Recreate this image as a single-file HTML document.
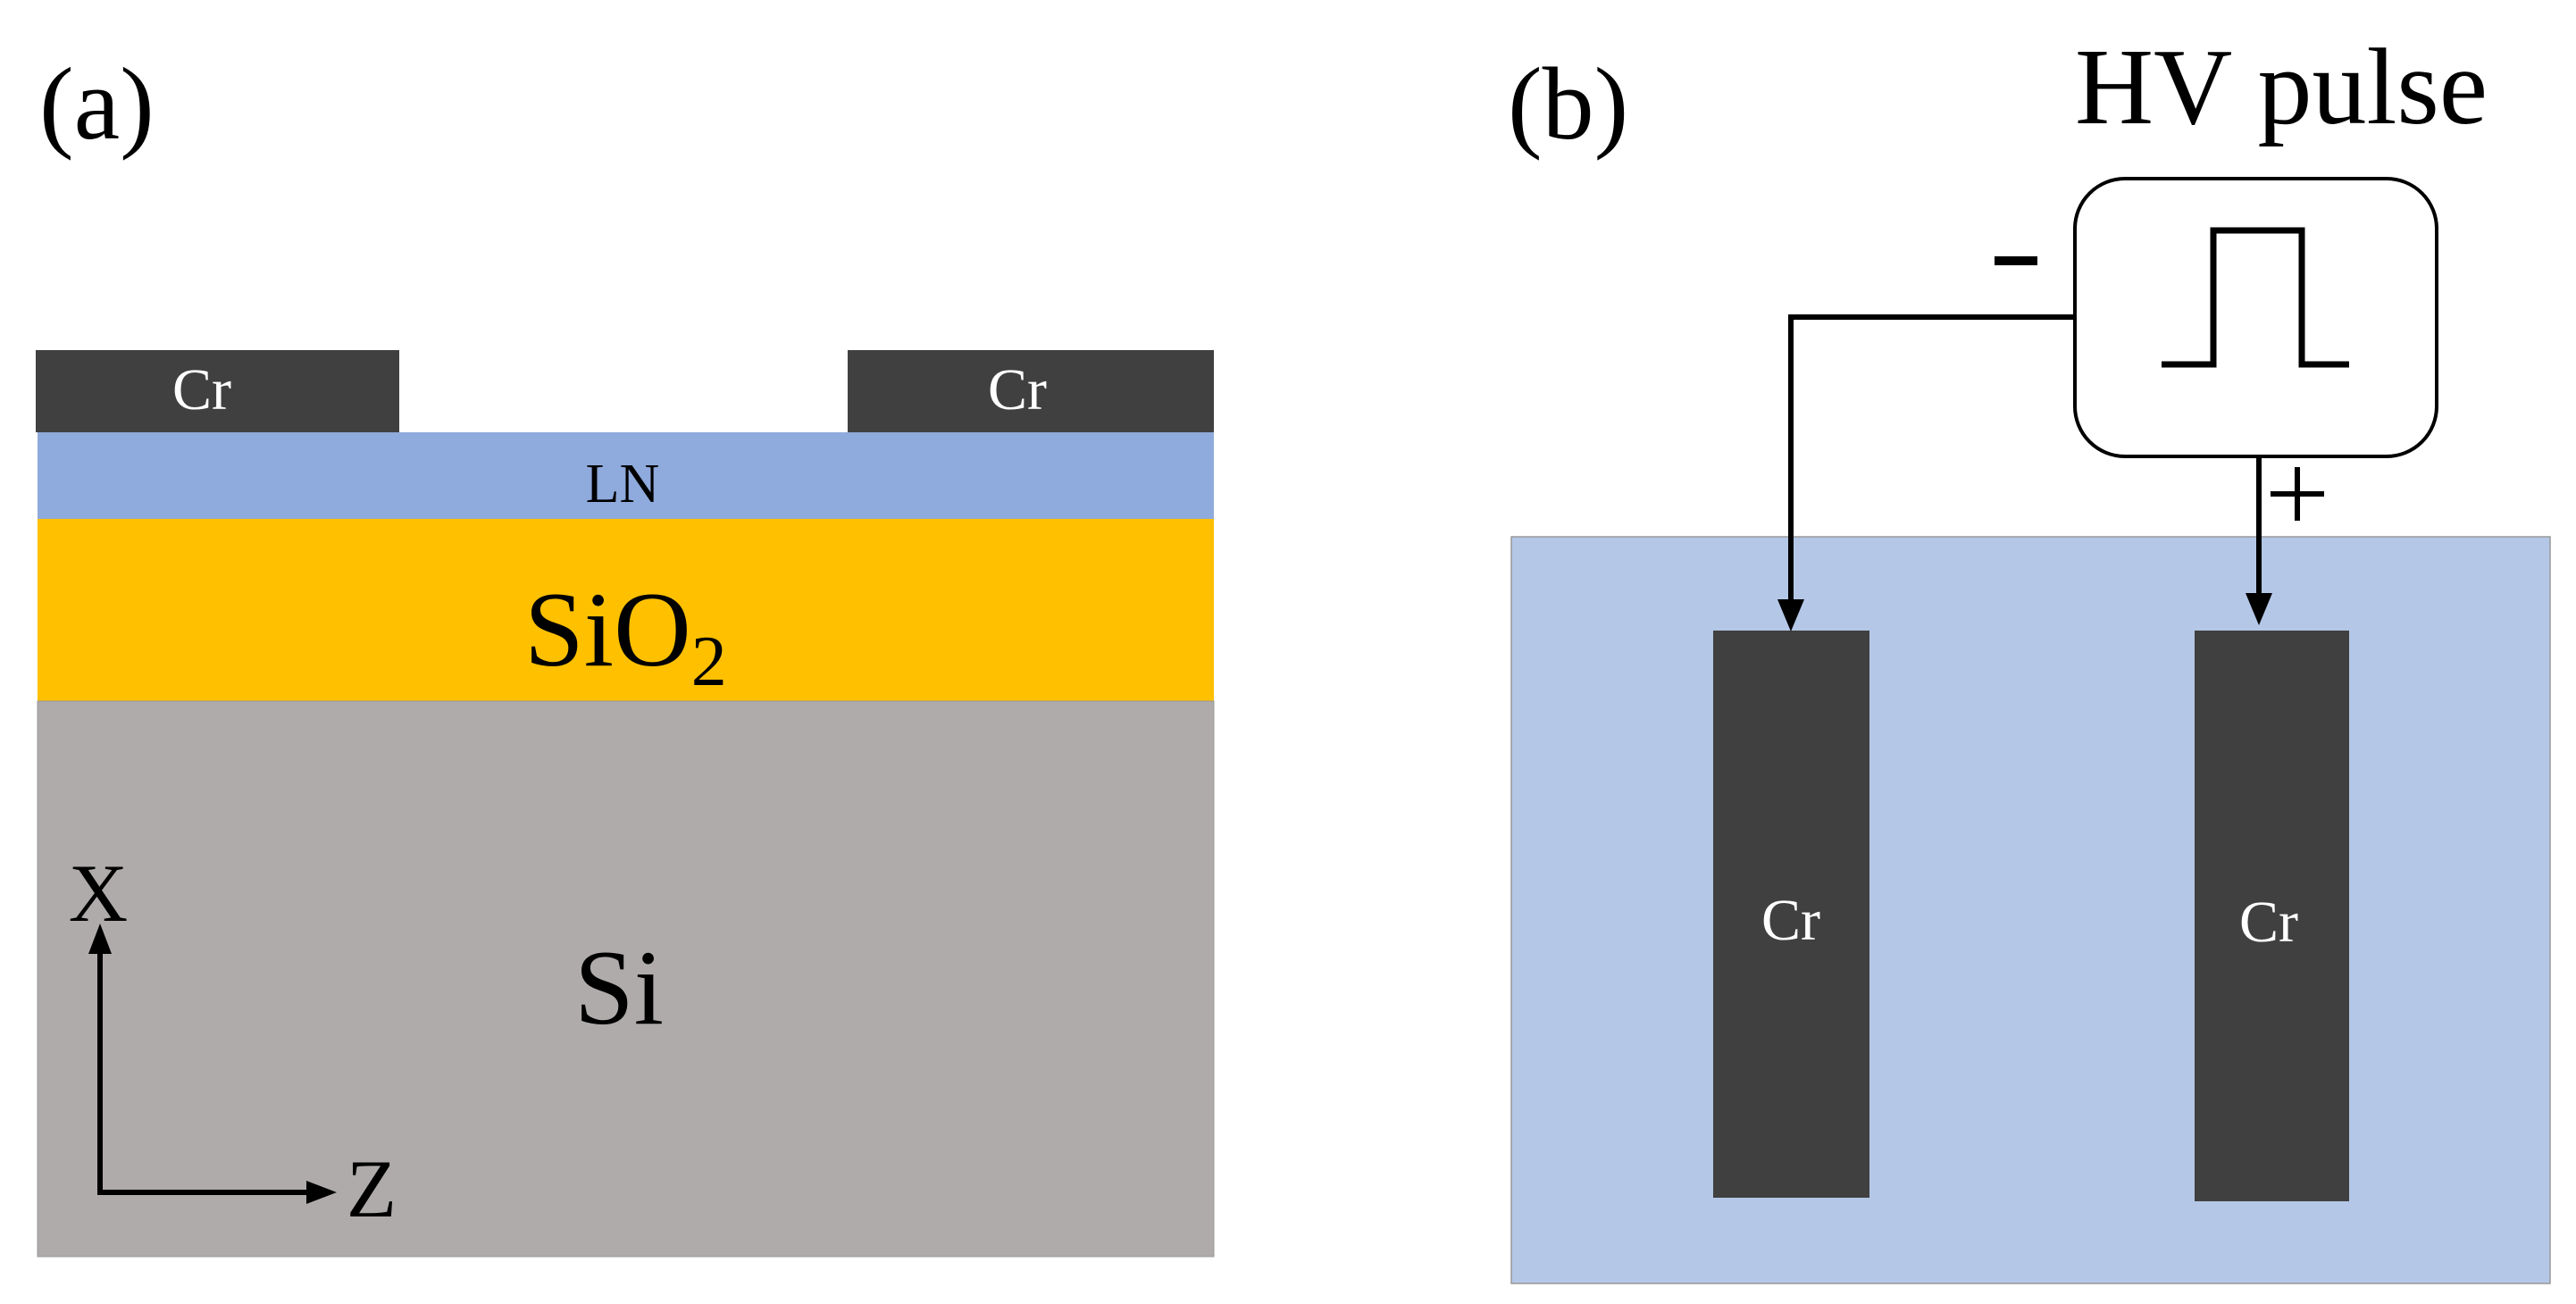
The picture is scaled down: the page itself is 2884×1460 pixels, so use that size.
<!DOCTYPE html>
<html><head><meta charset="utf-8"><style>
html,body{margin:0;padding:0;background:#fff;}
svg{display:block;}
text{font-family:"Liberation Serif",serif;}
</style></head><body>
<svg width="2884" height="1460" viewBox="0 0 2884 1460" xmlns="http://www.w3.org/2000/svg">
<!-- Panel a -->
<text x="44" y="155" font-size="116">(a)</text>
<rect x="40" y="392" width="407" height="92" fill="#404040"/>
<rect x="949" y="392" width="410" height="92" fill="#404040"/>
<text x="226" y="458" font-size="66" fill="#fff" text-anchor="middle">Cr</text>
<text x="1139" y="458" font-size="66" fill="#fff" text-anchor="middle">Cr</text>
<rect x="42" y="484" width="1317" height="97" fill="#8faadc"/>
<text x="697" y="562" font-size="62" text-anchor="middle">LN</text>
<rect x="42" y="581" width="1317" height="204" fill="#ffc000"/>
<text x="587" y="745" font-size="120">SiO<tspan font-size="80" dy="22">2</tspan></text>
<rect x="42" y="785" width="1317" height="622" fill="#afabab" stroke="#999" stroke-width="1"/>
<text x="693" y="1146" font-size="120" text-anchor="middle">Si</text>
<line x1="112" y1="1065" x2="112" y2="1338" stroke="#000" stroke-width="6"/>
<line x1="109" y1="1335" x2="350" y2="1335" stroke="#000" stroke-width="6"/>
<polygon points="112,1034 99,1068 125,1068" fill="#000"/>
<polygon points="377,1335 343,1322 343,1348" fill="#000"/>
<text x="110" y="1031" font-size="92" text-anchor="middle">X</text>
<text x="416" y="1362" font-size="92" text-anchor="middle">Z</text>
<!-- Panel b -->
<text x="1688" y="155" font-size="116">(b)</text>
<text x="2323" y="138" font-size="122">HV pulse</text>
<rect x="1692" y="601" width="1163" height="836" fill="#b4c7e7" stroke="#999" stroke-width="1.5"/>
<rect x="1918" y="706" width="175" height="635" fill="#404040"/>
<rect x="2457" y="706" width="173" height="639" fill="#404040"/>
<text x="2005" y="1052" font-size="66" fill="#fff" text-anchor="middle">Cr</text>
<text x="2540" y="1054" font-size="66" fill="#fff" text-anchor="middle">Cr</text>
<rect x="2323" y="200" width="405" height="311" rx="56" ry="56" fill="#fff" stroke="#000" stroke-width="4"/>
<polyline points="2420,408 2478,408 2478,258 2577,258 2577,408 2630,408" fill="none" stroke="#000" stroke-width="7"/>
<polyline points="2323,355 2005,355 2005,675" fill="none" stroke="#000" stroke-width="6"/>
<polygon points="2005,707 1990,671 2020,671" fill="#000"/>
<line x1="2529" y1="511" x2="2529" y2="668" stroke="#000" stroke-width="6"/>
<polygon points="2529,700 2514,664 2544,664" fill="#000"/>
<rect x="2233" y="287" width="48" height="10" fill="#000"/>
<line x1="2542" y1="553" x2="2602" y2="553" stroke="#000" stroke-width="6"/>
<line x1="2572" y1="523" x2="2572" y2="583" stroke="#000" stroke-width="6"/>
</svg>
</body></html>
